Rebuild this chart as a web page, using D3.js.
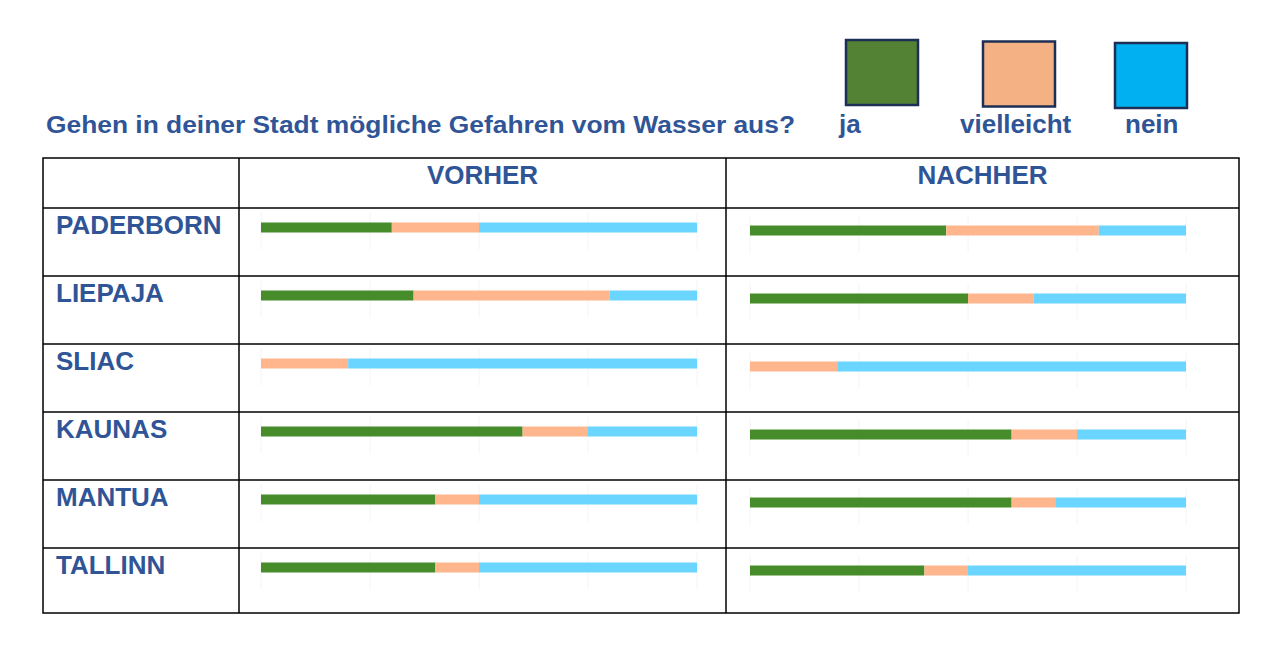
<!DOCTYPE html>
<html>
<head>
<meta charset="utf-8">
<script src="https://cdn.jsdelivr.net/npm/d3@7"></script>
<style>
  body { margin: 0; background: #fff; }
  svg text { font-family: "Liberation Sans", Arial, sans-serif; font-weight: bold; fill: #2f5597; }
</style>
</head>
<body>
<script>
// values, in percent
var cities = ['PADERBORN', 'LIEPAJA', 'SLIAC', 'KAUNAS', 'MANTUA', 'TALLINN'];
var categories = ['ja', 'vielleicht', 'nein'];
var phases = ['VORHER', 'NACHHER'];
var vorherJa = [30, 35, 0, 60, 40, 40];
var vorherVielleicht = [20, 45, 20, 15, 10, 10];
var vorherNein = [50, 20, 80, 25, 50, 50];
var nachherJa = [45, 50, 0, 60, 60, 40];
var nachherVielleicht = [35, 15, 20, 15, 10, 10];
var nachherNein = [20, 35, 80, 25, 30, 50];
var gridTicks = [0, 25, 50, 75, 100];
var title = 'Gehen in deiner Stadt mögliche Gefahren vom Wasser aus?';

var width = 1266,
    height = 647;

var svg = d3.select('body').append('svg')
    .attr('width', width)
    .attr('height', height);

var barColor = d3.scaleOrdinal().domain(categories).range(['#478c2b', '#ffb68d', '#6ad5ff']);
var legendColor = d3.scaleOrdinal().domain(categories).range(['#548235', '#f4b183', '#00b0f0']);

// table geometry
var tableLeft = 43, tableRight = 1239, tableTop = 158, tableBottom = 613;
var firstCol = 239, midCol = 726, headerBottom = 208;

var y = d3.scaleBand().domain(cities).range([headerBottom, headerBottom + 68 * cities.length]);

// one x scale per phase column
var x = {
    VORHER: d3.scaleLinear().domain([0, 100]).range([261, 697]),
    NACHHER: d3.scaleLinear().domain([0, 100]).range([750, 1186])
};
var barOffset = { VORHER: 19.5, NACHHER: 22.5 };

function rowsFor(ja, viel, nein) {
    return cities.map(function (c, i) {
        return { city: c, ja: ja[i], vielleicht: viel[i], nein: nein[i] };
    });
}
var tables = {
    VORHER: rowsFor(vorherJa, vorherVielleicht, vorherNein),
    NACHHER: rowsFor(nachherJa, nachherVielleicht, nachherNein)
};

var stack = d3.stack().keys(categories);

// title and legend
svg.append('text')
    .attr('x', 46).attr('y', 133)
    .attr('textLength', 749).attr('lengthAdjust', 'spacingAndGlyphs')
    .style('font-size', '23px')
    .text(title);

var legendX = d3.scaleOrdinal().domain(categories).range([846, 983, 1115]);
var legendLabelX = d3.scaleOrdinal().domain(categories).range([839, 960, 1125]);

svg.selectAll('rect.legend').data(categories).enter().append('rect')
    .attr('class', 'legend')
    .attr('x', function (d) { return legendX(d); })
    .attr('y', function (d, i) { return 40 + i * 1.5; })
    .attr('width', 72)
    .attr('height', 65)
    .style('fill', function (d) { return legendColor(d); })
    .style('stroke', '#1d2f55')
    .style('stroke-width', 2.5);

svg.selectAll('text.legend').data(categories).enter().append('text')
    .attr('class', 'legend')
    .attr('x', function (d) { return legendLabelX(d); })
    .attr('y', 133)
    .style('font-size', '26px')
    .text(function (d) { return d; });

// grid lines and bars for each phase
phases.forEach(function (p) {
    var series = stack(tables[p]);
    var g = svg.append('g');

    cities.forEach(function (c) {
        var cy = y(c) + barOffset[p];
        g.selectAll(null).data(gridTicks).enter().append('line')
            .attr('x1', function (d) { return x[p](d); })
            .attr('x2', function (d) { return x[p](d); })
            .attr('y1', cy - 15)
            .attr('y2', cy + 22)
            .style('stroke', '#f4f4f4')
            .style('stroke-width', 1);
    });

    g.selectAll('g.series').data(series).enter().append('g')
        .style('fill', function (d) { return barColor(d.key); })
        .selectAll('rect').data(function (d) { return d; }).enter().append('rect')
        .attr('x', function (d) { return x[p](d[0]); })
        .attr('width', function (d) { return x[p](d[1]) - x[p](d[0]); })
        .attr('y', function (d) { return y(d.data.city) + barOffset[p] - 5; })
        .attr('height', 10);
});

// table lines
var lines = svg.append('g').style('stroke', '#000').style('stroke-width', 1.5);
lines.append('rect')
    .attr('x', tableLeft).attr('y', tableTop)
    .attr('width', tableRight - tableLeft).attr('height', tableBottom - tableTop)
    .style('fill', 'none');
lines.selectAll('line.row').data(cities).enter().append('line')
    .attr('x1', tableLeft).attr('x2', tableRight)
    .attr('y1', function (d) { return y(d); })
    .attr('y2', function (d) { return y(d); });
[firstCol, midCol].forEach(function (cx) {
    lines.append('line').attr('x1', cx).attr('x2', cx).attr('y1', tableTop).attr('y2', tableBottom);
});

// headers
var headerX = d3.scaleOrdinal().domain(phases).range([(firstCol + midCol) / 2, (midCol + tableRight) / 2]);
svg.selectAll('text.header').data(phases).enter().append('text')
    .attr('x', function (d) { return headerX(d); })
    .attr('y', 184)
    .attr('text-anchor', 'middle')
    .style('font-size', '26px')
    .text(function (d) { return d; });

// city names
svg.selectAll('text.city').data(cities).enter().append('text')
    .attr('x', 56)
    .attr('y', function (d) { return y(d) + 26; })
    .style('font-size', '26px')
    .text(function (d) { return d; });
</script>
</body>
</html>
